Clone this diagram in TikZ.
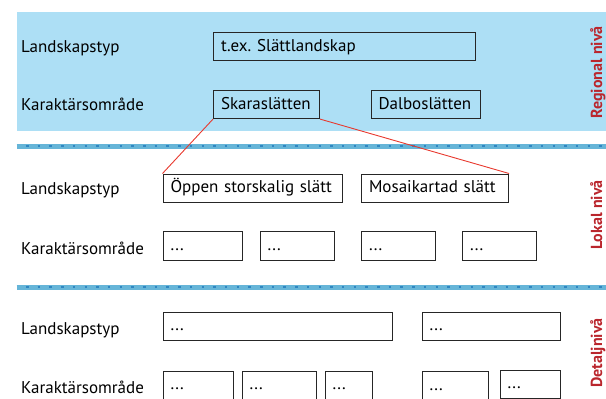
\documentclass[tikz,border=0pt]{standalone}
\usepackage{fontspec}
\setmainfont{PT Sans}
\usepackage{tikz}
\usetikzlibrary{positioning}
\definecolor{ljusbla}{HTML}{ADDFF5}
\definecolor{linjebla}{HTML}{66B5D8}
\definecolor{prickbla}{HTML}{2F86C2}
\definecolor{rodlinje}{HTML}{E8392E}
\definecolor{rodtext}{HTML}{BA262D}
\tikzstyle{ruta}=[draw=black!85,line width=1.1pt,anchor=north west,inner xsep=7.5pt,inner ysep=0pt,align=left,text height=12pt,text depth=3pt,font=\fontsize{17}{20}\selectfont]
\tikzstyle{etikett}=[anchor=base west,inner sep=0pt,font=\fontsize{17}{20}\selectfont]
\tikzstyle{niva}=[rotate=90,anchor=base,inner sep=0pt,text=rodtext,font=\bfseries\fontsize{16}{19}\selectfont]
\tikzstyle{skiljelinje}=[line width=5pt,linjebla]
\tikzstyle{prickar}=[line width=2.5pt,prickbla,dash pattern=on 2.5pt off 9.2pt]

\begin{document}
\frenchspacing
\begin{tikzpicture}[x=1pt,y=-1pt]
\useasboundingbox (0,0) rectangle (606,399);

% regional niva
\fill[ljusbla] (16.5,12) rectangle (606,131);
\node[etikett] (lbl-typ-reg) at (21,52.5) {Landskapstyp};
\node[etikett] (lbl-kar-reg) at (21,110) {Karaktärsområde};
\node[ruta,minimum height=28,text width=247] (typ-reg) at (213,32) {t.ex. Slättlandskap};
\node[ruta,minimum height=28,text width=91] (skara) at (213,90) {Skaraslätten};
\node[ruta,minimum height=28,text width=94] (dalbo) at (370.5,90) {Dalboslätten};
\node[niva] (niva-reg) at (602,72.5) {Regional nivå};

\draw[skiljelinje] (16.5,146) -- (606,146);
\draw[prickar] (26,146) -- (606,146);

% lokal niva
\node[etikett] (lbl-typ-lok) at (21,194) {Landskapstyp};
\node[etikett] (lbl-kar-lok) at (21,254) {Karaktärsområde};
\node[ruta,minimum height=28,text width=164.5] (oppen) at (162.5,173.5) {Öppen storskalig slätt};
\node[ruta,minimum height=28,text width=132] (mosaik) at (361,173.5) {Mosaikartad slätt};
\node[ruta,minimum height=29,text width=64] (lok1) at (162.5,231) {...};
\node[ruta,minimum height=29,text width=59.5] (lok2) at (259.5,231) {...};
\node[ruta,minimum height=29,text width=59] (lok3) at (361,231) {...};
\node[ruta,minimum height=29,text width=59] (lok4) at (462,231) {...};
\node[niva] (niva-lok) at (602,215) {Lokal nivå};

\draw[rodlinje,line width=0.9pt] (skara.south west) -- (oppen.north west);
\draw[rodlinje,line width=0.9pt] (skara.south east) -- (mosaik.north east);

\draw[skiljelinje] (16.5,287) -- (606,287);
\draw[prickar] (26,287) -- (606,287);

% detaljniva
\node[etikett] (lbl-typ-det) at (21,334) {Landskapstyp};
\node[etikett] (lbl-kar-det) at (21,393) {Karaktärsområde};
\node[ruta,minimum height=27.5,text width=214.5] (det-typ1) at (162.5,312) {...};
\node[ruta,minimum height=27.5,text width=123.5] (det-typ2) at (421.5,312) {...};
\node[ruta,minimum height=28,text width=55] (det-kar1) at (162.5,370.5) {...};
\node[ruta,minimum height=28,text width=59] (det-kar2) at (241.5,370.5) {...};
\node[ruta,minimum height=28,text width=32] (det-kar3) at (324.5,370.5) {...};
\node[ruta,minimum height=28,text width=51.5] (det-kar4) at (421.5,371) {...};
\node[ruta,minimum height=28,text width=45.5] (det-kar5) at (499.5,369.5) {...};
\node[niva] (niva-det) at (602,353) {Detaljnivå};
\end{tikzpicture}
\end{document}
